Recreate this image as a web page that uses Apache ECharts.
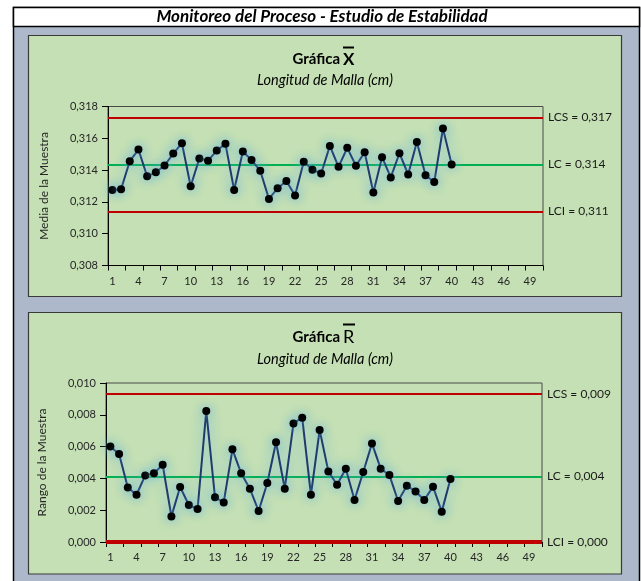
<!DOCTYPE html>
<html><head><meta charset="utf-8">
<script src="https://cdn.jsdelivr.net/npm/echarts@6/dist/echarts.min.js"></script>
<style>html,body{margin:0;padding:0;background:#fff}#c{width:641px;height:581px}</style>
</head><body><div id="c"></div>
<script>
var categories = [];
for (var i = 1; i <= 50; i++) categories.push(String(i));
var xbarValues = [0.31275,0.3128,0.31456,0.31529,0.31361,0.31386,0.31429,0.31504,0.31569,0.31298,0.31473,0.31459,0.31523,0.31565,0.31275,0.31517,0.31463,0.31396,0.31219,0.31286,0.31331,0.3124,0.31453,0.31402,0.31379,0.31552,0.31421,0.3154,0.31427,0.31512,0.31259,0.31481,0.31354,0.31506,0.31373,0.31577,0.31367,0.31325,0.31661,0.31436];
var rangeValues = [0.00601,0.00553,0.00342,0.00297,0.00419,0.00432,0.00486,0.00161,0.00346,0.00233,0.00207,0.00824,0.00281,0.00249,0.00583,0.00432,0.00335,0.00195,0.00371,0.00627,0.00335,0.00746,0.00782,0.00297,0.00704,0.00444,0.0036,0.00461,0.00264,0.0044,0.0062,0.00461,0.00421,0.00258,0.00354,0.00318,0.00264,0.00348,0.00191,0.00396];
var xbarLimits = {LCS: 0.31731, LC: 0.31436, LCI: 0.3114};
var rangeLimits = {LCS: 0.00933, LC: 0.00413, LCI: 0.0};
var xbarAxis = {min: 0.308, max: 0.318, interval: 0.002};
var rangeAxis = {min: 0, max: 0.010, interval: 0.002};

var FONT = 'Lato, "Liberation Sans", sans-serif';
function fmt(v){ return v.toFixed(3).replace('.', ','); }

function ctrlLines(lim, lciWidth){
  function ml(name, val, color, w){
    return {yAxis: val, lineStyle: {color: color, width: w, type: 'solid'},
      label: {show: true, position: 'end', distance: 5, formatter: name + ' = ' + fmt(val),
        color: '#1a1a1a', fontSize: 12, fontFamily: FONT}};
  }
  return {silent: true, symbol: 'none', precision: 6, animation: false, data: [
    ml('LCS', lim.LCS, '#c00000', 2),
    ml('LC', lim.LC, '#00b050', 2),
    ml('LCI', lim.LCI, '#c00000', lciWidth)
  ]};
}

function yAx(idx, ax, name){
  return {type: 'value', gridIndex: idx, min: ax.min, max: ax.max, interval: ax.interval,
    name: name, nameLocation: 'middle', nameGap: 58, nameRotate: 90,
    nameTextStyle: {fontFamily: FONT, fontSize: 12, color: '#262626'},
    axisLine: {show: true, lineStyle: {color: '#000', width: 1}},
    axisTick: {show: true, length: 6, lineStyle: {color: '#000'}},
    axisLabel: {formatter: fmt, fontFamily: FONT, fontSize: 11, color: '#262626', margin: 10},
    splitLine: {show: false}};
}
function xAx(idx){
  return {type: 'category', gridIndex: idx, data: categories, boundaryGap: true,
    axisLine: {show: true, onZero: false, lineStyle: {color: '#000', width: 1}},
    axisTick: {show: true, interval: 1, length: 5, lineStyle: {color: '#000'}},
    axisLabel: {interval: 2, fontFamily: FONT, fontSize: 11, color: '#262626', margin: 10},
    splitLine: {show: false}};
}
function ser(idx, data, lim, lciW){
  return {type: 'line', xAxisIndex: idx, yAxisIndex: idx, data: data,
    symbol: 'circle', symbolSize: 8, showAllSymbol: true, z: 5,
    lineStyle: {color: '#1f3a6e', width: 2, shadowBlur: 14, shadowColor: 'rgba(100,180,225,0.95)'},
    itemStyle: {color: '#000', borderWidth: 0, shadowBlur: 10, shadowColor: 'rgba(100,180,225,0.9)'},
    markLine: ctrlLines(lim, lciW), animation: false};
}

var chart = echarts.init(document.getElementById('c'), null, {renderer: 'canvas'});
chart.setOption({
  animation: false,
  backgroundColor: '#ffffff',
  graphic: [
    {type: 'rect', z: -20, shape: {x: 13.5, y: 7.5, width: 626, height: 580}, style: {fill: '#adb9ca', stroke: '#000', lineWidth: 1.5}},
    {type: 'rect', z: -19, shape: {x: 13.5, y: 7.5, width: 626, height: 19}, style: {fill: '#ffffff', stroke: '#000', lineWidth: 1.5}},
    {type: 'text', z: -18, x: 322, y: 17, style: {text: 'Monitoreo del Proceso - Estudio de Estabilidad', fontFamily: FONT, fontSize: 17, fontWeight: 'bold', fontStyle: 'italic', fill: '#000', align: 'center', verticalAlign: 'middle'}},
    {type: 'rect', z: -18, shape: {x: 28.5, y: 35.5, width: 593, height: 261}, style: {fill: '#c5e0b4', stroke: '#3a3a3a', lineWidth: 1.2}},
    {type: 'rect', z: -18, shape: {x: 28.5, y: 312.5, width: 593, height: 261.5}, style: {fill: '#c5e0b4', stroke: '#3a3a3a', lineWidth: 1.2}},
    {type: 'text', z: -17, x: 340, y: 59, style: {text: 'Gráfica', fontFamily: FONT, fontSize: 15, fontWeight: 'bold', fill: '#000', align: 'right', verticalAlign: 'middle'}},
    {type: 'text', z: -17, x: 343, y: 60, style: {text: 'X', fontFamily: FONT, fontSize: 17, fontWeight: 'bold', fill: '#000', align: 'left', verticalAlign: 'middle'}},
    {type: 'line', z: -17, shape: {x1: 343, y1: 47.5, x2: 354, y2: 47.5}, style: {stroke: '#000', lineWidth: 2}},
    {type: 'text', z: -17, x: 325, y: 80, style: {text: 'Longitud de Malla (cm)', fontFamily: FONT, fontSize: 14.5, fontStyle: 'italic', fill: '#000', align: 'center', verticalAlign: 'middle'}},
    {type: 'text', z: -17, x: 340, y: 337, style: {text: 'Gráfica', fontFamily: FONT, fontSize: 15, fontWeight: 'bold', fill: '#000', align: 'right', verticalAlign: 'middle'}},
    {type: 'text', z: -17, x: 343, y: 337, style: {text: 'R', fontFamily: FONT, fontSize: 18, fill: '#000', align: 'left', verticalAlign: 'middle'}},
    {type: 'line', z: -17, shape: {x1: 343, y1: 324.5, x2: 355, y2: 324.5}, style: {stroke: '#000', lineWidth: 2}},
    {type: 'text', z: -17, x: 325, y: 359, style: {text: 'Longitud de Malla (cm)', fontFamily: FONT, fontSize: 14.5, fontStyle: 'italic', fill: '#000', align: 'center', verticalAlign: 'middle'}}
  ],
  grid: [
    {left: 108, top: 106.5, width: 435, height: 159, show: true, borderColor: '#4a4a4a', borderWidth: 1, backgroundColor: 'transparent', containLabel: false},
    {left: 106, top: 383, width: 436, height: 159, show: true, borderColor: '#4a4a4a', borderWidth: 1, backgroundColor: 'transparent', containLabel: false}
  ],
  xAxis: [xAx(0), xAx(1)],
  yAxis: [yAx(0, xbarAxis, 'Media de la Muestra'), yAx(1, rangeAxis, 'Rango de la Muestra')],
  series: [ser(0, xbarValues, xbarLimits, 2), ser(1, rangeValues, rangeLimits, 4)]
});
</script></body></html>
